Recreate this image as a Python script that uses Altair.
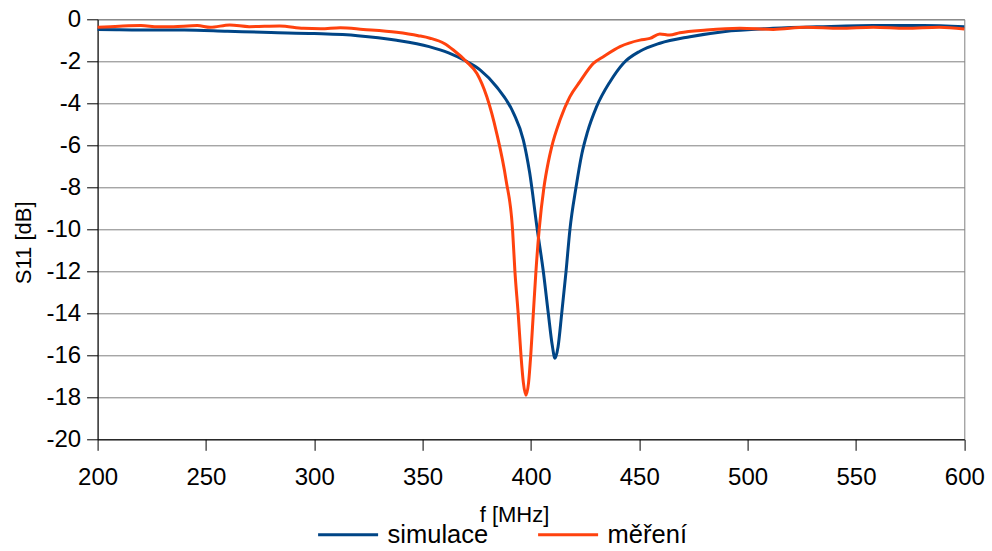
import altair as alt
import pandas as pd

# simulace (blue)
sim_f = [200, 210, 220, 240, 260, 280, 300, 320, 338, 353, 362, 369, 376.5, 384, 392, 396.5,
         399.4, 402.9, 405.7, 408, 409.8, 411.1, 412.5, 414.2, 416.2, 418, 420.8, 423.5, 426,
         430.3, 436.5, 442.6, 450.3, 459.5, 473.4, 488.8, 511.8, 534.8, 557.9, 581, 600]
sim_db = [-0.48, -0.50, -0.51, -0.51, -0.57, -0.63, -0.68, -0.78, -1.0, -1.3, -1.6, -1.94, -2.41,
          -3.2, -4.48, -5.75, -7.3, -10.0, -12.0, -14.0, -15.5, -16.14, -15.6, -14.0, -12.0,
          -10.0, -8.0, -6.4, -5.4, -4.16, -2.97, -2.10, -1.52, -1.14, -0.83, -0.59, -0.43,
          -0.35, -0.30, -0.29, -0.35]

# měření (orange)
mer_f = [200, 210, 220, 228, 235, 246, 252, 261, 270, 284, 295, 303, 312, 322.6, 338, 348,
         353.4, 360, 364.2, 370.3, 375, 379.6, 384.2, 388.5, 391.5, 392.6, 394.1, 395.4, 396.5,
         397.7, 398.9, 399.9, 401.1, 402.3, 403.8, 406, 408, 409.6, 413.4, 418, 422.6, 428.8,
         433.4, 441.1, 450.3, 454.9, 459.5, 464, 468.7, 481, 496.4, 511.8, 527, 542.6, 558,
         573, 588.4, 600]
mer_db = [-0.38, -0.33, -0.30, -0.36, -0.35, -0.30, -0.38, -0.27, -0.35, -0.32, -0.43, -0.45,
          -0.40, -0.48, -0.62, -0.78, -0.90, -1.15, -1.46, -2.02, -2.57, -3.68, -5.43, -7.65,
          -10.0, -12.0, -14.0, -16.0, -17.3, -17.9, -17.3, -16.0, -14.0, -12.0, -10.0, -8.0,
          -6.8, -6.06, -4.8, -3.68, -2.97, -2.1, -1.78, -1.30, -0.99, -0.91, -0.70, -0.75,
          -0.64, -0.51, -0.43, -0.48, -0.38, -0.43, -0.38, -0.43, -0.38, -0.46]

series_names = ["simulace", "měření"]
series_colors = ["#004586", "#ff420e"]
x_ticks = [200, 250, 300, 350, 400, 450, 500, 550, 600]
y_ticks = list(range(-20, 1, 2))

df = pd.concat([
    pd.DataFrame({"f": sim_f, "s11": sim_db, "serie": series_names[0], "o": 0}),
    pd.DataFrame({"f": mer_f, "s11": mer_db, "serie": series_names[1], "o": 1}),
])

FONT = "Liberation Sans"

chart = alt.Chart(df).mark_line(strokeWidth=3, interpolate="monotone").encode(
    x=alt.X("f:Q", scale=alt.Scale(domain=[200, 600], nice=False, zero=False),
            axis=alt.Axis(values=x_ticks, title="f [MHz]", grid=False,
                          labelExpr="'' + datum.value", labelFlush=False,
                          tickSize=11, labelPadding=15,
                          titleX=416.4, titleY=82.4, titleBaseline="alphabetic",
                          titleAlign="center")),
    y=alt.Y("s11:Q", scale=alt.Scale(domain=[-20, 0], nice=False, zero=False),
            axis=alt.Axis(values=y_ticks, title="S11 [dB]", grid=True,
                          labelExpr="'' + datum.value", labelFlush=False,
                          tickSize=11, labelPadding=6,
                          titleAngle=270, titleX=-67.5, titleY=223,
                          titleBaseline="alphabetic", titleAlign="center")),
    color=alt.Color("serie:N", scale=alt.Scale(domain=series_names, range=series_colors),
                    legend=alt.Legend(title=None, orient="none", direction="horizontal",
                                      legendX=219, legendY=484,
                                      symbolType="stroke", symbolSize=3600,
                                      symbolStrokeWidth=3, labelOffset=8,
                                      columnPadding=43, labelFontSize=25.5,
                                      labelFont=FONT, labelColor="#000000")),
    order="o:Q",
    detail="serie:N",
).properties(
    width=866.7, height=420,
    autosize=alt.AutoSizeParams(type="none"),
    padding={"left": 97.6, "top": 19.3, "right": 27.7, "bottom": 111.7},
    background="white",
).configure_axis(
    labelFont=FONT, titleFont=FONT, labelFontSize=24, titleFontSize=22,
    labelColor="#000000", titleColor="#000000", titleFontWeight="normal",
    domainColor="#000000", tickColor="#000000", gridColor="#808080",
    gridWidth=1, domainWidth=1, tickWidth=1,
).configure_view(stroke="#808080", strokeWidth=1)

chart.save("out.html", embed_options={"renderer": "svg", "actions": False})
